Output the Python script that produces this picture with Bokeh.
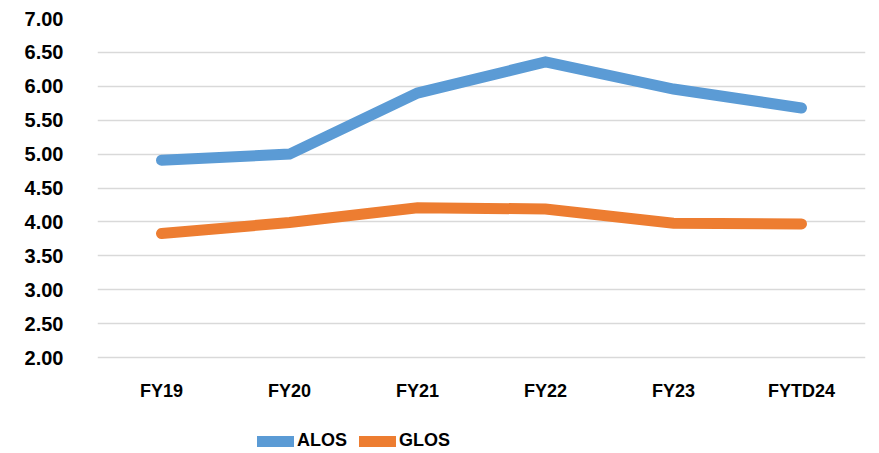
from bokeh.plotting import figure
from bokeh.models import FixedTicker, NumeralTickFormatter, Legend, LegendItem, Range1d
from bokeh.embed import file_html
from bokeh.resources import INLINE

categories = ["FY19", "FY20", "FY21", "FY22", "FY23", "FYTD24"]
alos = [4.91, 5.00, 5.90, 6.36, 5.96, 5.68]
glos = [3.83, 3.99, 4.21, 4.19, 3.98, 3.97]
y_ticks = [2.0, 2.5, 3.0, 3.5, 4.0, 4.5, 5.0, 5.5, 6.0, 6.5, 7.0]

# frame spans the whole height below the top border; the value axis shows 2.00-7.00,
# the space under 2.00 holds the category labels and the legend
Y_MIN, Y_MAX = 2.0, 7.0
px_per_unit = 339 / (Y_MAX - Y_MIN)
y_start = Y_MIN - 96 / px_per_unit

p = figure(width=879, height=453, x_range=categories, y_range=Range1d(y_start, Y_MAX),
           output_backend="svg", toolbar_location=None,
           min_border_left=97, min_border_right=14, min_border_top=18, min_border_bottom=0)
p.x_range.range_padding = 0
p.outline_line_color = None
p.background_fill_color = "white"
p.border_fill_color = "white"

r1 = p.line(categories, alos, line_color="#5B9BD5", line_width=11, line_cap="round", line_join="miter")
r2 = p.line(categories, glos, line_color="#ED7D31", line_width=11, line_cap="round", line_join="miter")

p.xgrid.grid_line_color = None
p.ygrid.grid_line_color = "#D9D9D9"
p.ygrid.grid_line_width = 1.5
p.yaxis.ticker = FixedTicker(ticks=y_ticks)
p.yaxis.formatter = NumeralTickFormatter(format="0.00")

for ax in (p.xaxis[0], p.yaxis[0]):
    ax.axis_line_color = None
    ax.major_tick_line_color = None
    ax.minor_tick_line_color = None
    ax.major_label_text_font_style = "bold"
    ax.major_label_text_color = "black"

p.xaxis.fixed_location = Y_MIN

p.yaxis.major_label_text_font = "Liberation Sans"
p.yaxis.major_label_text_font_size = "20px"
p.yaxis.major_label_standoff = 28
p.xaxis.major_label_text_font = "Liberation Sans"
p.xaxis.major_label_text_font_size = "18px"
p.xaxis.major_label_standoff = 17

legend = Legend(items=[LegendItem(label="ALOS", renderers=[r1]),
                       LegendItem(label="GLOS", renderers=[r2])],
                orientation="horizontal", location=(160, 2))
legend.border_line_color = None
legend.background_fill_alpha = 0
legend.padding = 0
legend.margin = 0
legend.spacing = 12
legend.glyph_width = 37
legend.glyph_height = 20
legend.label_standoff = 3
legend.label_text_font = "Liberation Sans"
legend.label_text_font_style = "bold"
legend.label_text_font_size = "18px"
legend.label_text_color = "black"
p.add_layout(legend, "center")

open("out.html", "w").write(file_html(p, INLINE))
